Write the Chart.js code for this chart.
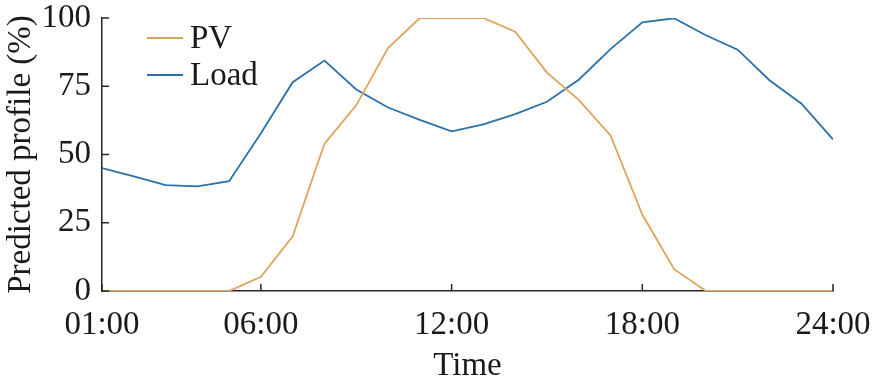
<!DOCTYPE html>
<html lang="en">
<head>
    <meta charset="UTF-8">
    <title>Predicted profile</title>
    <script src="https://cdn.jsdelivr.net/npm/chart.js"></script>
    <style>
        html, body { margin: 0; padding: 0; background: #fff; }
        #wrap { width: 872px; height: 386px; }
    </style>
</head>
<body>
    <div id="wrap"><canvas id="profileChart" width="872" height="386"></canvas></div>

    <script>
        // hours of the day and predicted profiles (%)
        const hours = [1, 2, 3, 4, 5, 6, 7, 8, 9, 10, 11, 12, 13, 14, 15, 16, 17, 18, 19, 20, 21, 22, 23, 24];
        const pvProfile = [0, 0, 0, 0, 0, 5.2, 20, 54, 68, 89, 100, 100, 100, 95, 80, 70, 57, 28, 8, 0, 0, 0, 0, 0];
        const loadProfile = [45, 42, 38.8, 38.3, 40.2, 57.8, 76.5, 84.4, 73.8, 67.2, 62.7, 58.5, 61, 64.8, 69.3, 77.4, 88.6, 98.4, 99.9, 93.7, 88.4, 77.2, 68.7, 55.5];
        const xTickHours = [1, 6, 12, 18, 24];
        const yTickValues = [0, 25, 50, 75, 100];

        const axisColor = '#262626';
        const textColor = '#1a1a1a';
        const serif = "'Liberation Serif', 'Times New Roman', serif";
        const fontSize = 33;

        const toPoints = (vals) => vals.map((v, i) => ({ x: hours[i], y: v }));
        const fmtHour = (h) => String(h).padStart(2, '0') + ':00';

        // don't let tick labels shrink the plot area
        const noOverhang = (scale) => {
            scale.paddingLeft = 0;
            scale.paddingRight = 0;
            scale.paddingTop = 0;
            scale.paddingBottom = 0;
        };

        // inward tick marks, like the original figure
        const innerTicks = {
            id: 'innerTicks',
            afterDraw(chart) {
                const ctx = chart.ctx;
                const xs = chart.scales.x, ys = chart.scales.y;
                const area = chart.chartArea;
                ctx.save();
                ctx.strokeStyle = axisColor;
                ctx.lineWidth = 1.5;
                ctx.beginPath();
                xTickHours.forEach(h => {
                    const px = xs.getPixelForValue(h);
                    ctx.moveTo(px, area.bottom);
                    ctx.lineTo(px, area.bottom - 7);
                });
                yTickValues.forEach(v => {
                    const py = ys.getPixelForValue(v);
                    ctx.moveTo(area.left, py);
                    ctx.lineTo(area.left + 7, py);
                });
                ctx.stroke();
                ctx.restore();
            }
        };

        // simple legend in the upper left of the plot
        const cornerLegend = {
            id: 'cornerLegend',
            afterDraw(chart) {
                const ctx = chart.ctx;
                ctx.save();
                ctx.font = fontSize + 'px ' + serif;
                ctx.textBaseline = 'middle';
                chart.data.datasets.forEach((ds, i) => {
                    const y = 38 + i * 37;
                    ctx.strokeStyle = ds.borderColor;
                    ctx.lineWidth = 1.8;
                    ctx.beginPath();
                    ctx.moveTo(147, y);
                    ctx.lineTo(183, y);
                    ctx.stroke();
                    ctx.fillStyle = textColor;
                    ctx.fillText(ds.label, 190, y + 1);
                });
                ctx.restore();
            }
        };

        new Chart(document.getElementById('profileChart').getContext('2d'), {
            type: 'line',
            data: {
                datasets: [{
                    label: 'PV',
                    data: toPoints(pvProfile),
                    borderColor: '#DDA55C',
                    borderWidth: 1.8,
                    pointRadius: 0,
                    tension: 0
                }, {
                    label: 'Load',
                    data: toPoints(loadProfile),
                    borderColor: '#2C70A8',
                    borderWidth: 1.8,
                    pointRadius: 0,
                    tension: 0
                }]
            },
            options: {
                responsive: false,
                animation: false,
                layout: { padding: { top: 18, right: 39, left: 0, bottom: 0 } },
                plugins: {
                    legend: { display: false },
                    tooltip: { enabled: false }
                },
                scales: {
                    x: {
                        type: 'linear',
                        min: 1,
                        max: 24,
                        afterBuildTicks: (scale) => { scale.ticks = xTickHours.map(v => ({ value: v })); },
                        afterFit: (scale) => { scale.height = 95; noOverhang(scale); },
                        grid: { display: false, drawTicks: false },
                        border: { display: true, color: axisColor, width: 1.5 },
                        ticks: {
                            padding: 15,
                            color: textColor,
                            font: { family: serif, size: fontSize },
                            maxRotation: 0,
                            autoSkip: false,
                            callback: (v) => fmtHour(v)
                        },
                        title: {
                            display: true,
                            text: 'Time',
                            color: textColor,
                            font: { family: serif, size: fontSize },
                            padding: { top: 0, bottom: 0 }
                        }
                    },
                    y: {
                        min: 0,
                        max: 100,
                        afterBuildTicks: (scale) => { scale.ticks = yTickValues.map(v => ({ value: v })); },
                        afterFit: (scale) => { scale.width = 102; noOverhang(scale); },
                        grid: { display: false, drawTicks: false },
                        border: { display: true, color: axisColor, width: 1.5 },
                        ticks: {
                            padding: 11,
                            color: textColor,
                            font: { family: serif, size: fontSize }
                        },
                        title: {
                            display: true,
                            text: 'Predicted profile (%)',
                            color: textColor,
                            font: { family: serif, size: fontSize },
                            padding: { top: 2, bottom: 4 }
                        }
                    }
                }
            },
            plugins: [innerTicks, cornerLegend]
        });
    </script>
</body>
</html>
